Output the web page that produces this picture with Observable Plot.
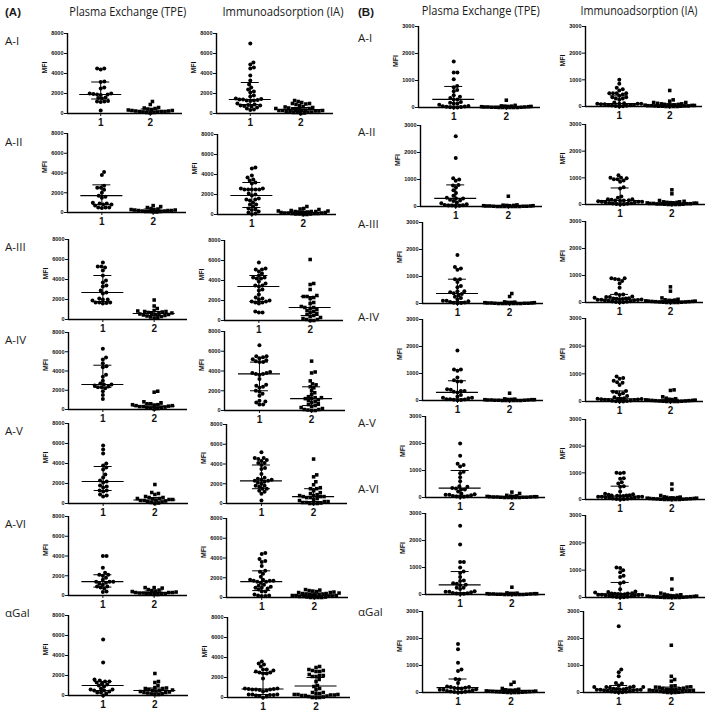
<!DOCTYPE html>
<html><head><meta charset="utf-8">
<script src="https://cdn.jsdelivr.net/npm/d3@7"></script>
<script src="https://cdn.jsdelivr.net/npm/@observablehq/plot@0.6"></script>
<style>
body{margin:0;background:#fff;}
#root{position:relative;width:709px;height:712px;overflow:hidden;background:#fff;}
.lbl{position:absolute;white-space:nowrap;color:#1a1a1a;line-height:1;}
.sub{position:absolute;}
</style></head><body><div id="root"></div>
<script>
// ---------- categories / labels ----------
const antigens = ["A-I","A-II","A-III","A-IV","A-V","A-VI","αGal"];
const methods = ["Plasma Exchange (TPE)","Immunoadsorption (IA)"];
const panels = ["(A)","(B)"];
const groups = [1, 2];
const yMaxA = 8000, yMaxB = 3000;
const ticksA = [0, 2000, 4000, 6000, 8000];
const ticksB = [0, 1000, 2000, 3000];
const yLabel = "MFI";

// ---------- Panel A values (MFI), one array per antigen ----------
const A_TPE_g1 = [
 [4500,4400,4500,3200,3150,2600,2500,2000,1950,1900,1900,1850,2000,1600,1550,1500,1200,1250,1150,1200,300],
 [4100,3800,2700,2500,2500,2300,2000,1700,1600,1500,1000,900,900,800,800,700,500,500,450,500],
 [5700,5300,5200,5300,4900,4400,3900,3700,3400,3300,2900,2700,2600,2100,2000,2000,1900,1700,1700,1600,1700,1650],
 [6300,5400,5200,4800,4500,4400,3600,3400,3000,2700,2600,2600,2500,2400,2300,2300,2200,1900,1500,1100],
 [5800,5400,5000,4000,3800,3600,3400,2900,2600,2300,2200,2100,1800,1700,1600,1300,1300,1200,900,800,700],
 [4000,4000,2800,2300,2100,2100,2000,1800,1600,1400,1400,1400,1300,1200,1100,900,900,800,700,400,350],
 [5600,3300,1600,1500,1400,1400,1300,1200,1100,1000,900,700,600,600,500,500,400,300,300,200,0]
];
const A_TPE_g2 = [
 [1200,900,600,550,500,450,400,350,300,300,250,250,200,200,200,150,150,100,100,50],
 [700,600,500,400,350,300,300,250,250,200,200,200,150,150,100,100,100,50,50],
 [1950,1350,1100,900,850,800,800,750,700,650,600,600,550,500,500,450,400,350,300,250,200,150],
 [1900,1800,800,700,600,600,500,500,450,400,400,350,300,300,250,200,200,150,100,50],
 [1900,1100,1000,900,700,600,600,500,500,450,400,400,350,300,300,250,200,150,100,50,0],
 [800,800,750,600,550,500,450,400,350,300,300,300,250,250,200,200,150,150,100,100],
 [2200,1400,1300,1000,800,750,700,700,600,550,500,500,450,400,350,300,300,250,200,150,100,100]
];
const A_IA_g1 = [
 [7000,5100,4900,4600,4500,3800,3300,2900,2600,2400,2200,2100,1800,1700,1500,1450,1400,1400,1350,1300,1300,1250,1000,900,850,800,800,750,700,600,500,400,350],
 [4700,4600,3900,3700,3500,3400,3200,3100,2600,2600,2500,2500,2500,2500,2500,2100,2000,1900,1600,1500,1500,1400,1200,1000,1000,800,600,500,450,300,200,100,50],
 [5800,5200,5100,5100,4900,4700,4500,4300,4300,4200,4200,3900,3700,3500,3500,3400,3100,3000,2600,2300,2200,2100,2000,1900,1900,1800,1800,1700,900,800,800],
 [6600,5500,5500,5400,5300,5200,5100,5000,4900,4900,3900,3800,3800,3700,3700,3600,3200,2600,2500,2400,2300,2000,1900,1700,1500,1000,900,800,600,600],
 [5200,4600,4600,4500,4400,4300,4100,4100,3900,3600,3500,3000,2600,2500,2400,2400,2300,2300,2200,2100,2000,1800,1800,1700,1500,1500,1300,1200,1000,300],
 [4500,4400,3900,3700,3600,3200,2700,2600,2400,2100,1800,1800,1700,1700,1700,1600,1600,1500,1300,1200,1100,1000,1000,900,800,600,600,300,200,200,150,150],
 [3600,3400,3300,3100,2800,2800,2700,2600,2500,2500,2400,2400,1900,900,900,850,850,800,800,800,750,700,600,300,300,300,250,250,200,150,100,0]
];
const A_IA_g2 = [
 [1300,1200,1100,1000,1000,950,900,800,700,650,600,550,500,500,450,400,400,350,350,300,300,300,250,250,200,200,150,150,100,100,50,0],
 [800,600,550,500,400,350,350,300,300,300,250,250,250,200,200,200,150,150,150,100,100,100,50,50,50,0,0],
 [6100,3700,3600,3100,2500,2400,2400,2300,2200,1800,1700,1400,1300,1300,1200,1100,1000,900,800,700,600,500,400,300,200,100,100,0,0],
 [5000,3900,3800,3000,2700,2600,2400,2300,2000,1800,1600,1400,1300,1300,1200,1200,1100,1000,900,800,700,600,500,400,300,200,100,100,50,0,0],
 [4500,2900,2700,2200,1900,1600,1500,1500,1300,1100,1000,900,800,800,700,700,700,600,600,500,400,300,200,200,100,100,50,0,0,0],
 [800,750,700,650,600,550,500,500,450,400,400,350,350,300,300,250,250,200,200,200,150,150,100,100,50,50,0,0,0,0],
 [3100,3000,2800,2700,2700,2600,2600,2300,2200,2200,2100,2100,1800,1600,1200,1100,900,800,500,500,400,400,300,300,300,250,250,200,200,150,100,50,0,0,0]
];
// [lower quartile, median, upper quartile]
const A_TPE_g1_bar = [[1450,1900,3150],[800,1700,2800],[1800,2700,4400],[2300,2600,4600],[1300,2200,3700],[850,1400,2100],[500,1000,1400]];
const A_TPE_g2_bar = [[150,250,450],[100,200,350],[400,600,800],[200,350,550],[150,350,600],[150,300,450],[250,500,750]];
const A_IA_g1_bar = [[900,1400,3100],[700,1900,3200],[1900,3400,4500],[2000,3700,4900],[1500,2300,3900],[700,1600,2700],[300,850,2500]];
const A_IA_g2_bar = [[200,400,600],[100,200,300],[500,1300,2400],[500,1200,2400],[200,700,1500],[100,250,450],[150,1150,2000]];

// ---------- Panel B values (MFI) ----------
const B_TPE_g1 = [
 [1700,1300,1300,1050,800,750,650,600,450,400,350,300,300,200,180,150,150,100,60,50,40,30,20,10,0,0],
 [2600,1800,1050,1000,950,800,780,700,600,500,400,320,300,300,250,220,200,150,120,80,60,50,40,40,30,20],
 [1800,1350,1300,1250,900,900,800,650,600,450,450,420,380,350,300,250,200,150,100,100,80,60,40,30,20,10],
 [1850,1150,1150,1100,850,750,700,700,420,400,350,350,320,300,200,150,100,100,80,50,50,40,30,20,10],
 [2000,1550,1250,1200,1150,950,900,750,600,420,400,350,330,300,300,220,150,120,100,100,80,60,50,40,30,20],
 [2550,1850,1200,1200,1000,850,800,650,520,500,420,400,360,340,250,250,200,120,100,100,80,60,50,40,30,20],
 [1800,1600,1100,850,800,500,480,350,220,200,200,180,170,150,150,120,100,100,80,60,50,40,30,20,10,0]
];
const B_TPE_g2 = [
 [270,80,60,50,50,40,40,30,30,20,20,20,10,10,10,0,0,0,0,0,0],
 [380,60,50,40,40,30,30,30,20,20,20,10,10,10,0,0,0,0,0,0,0],
 [370,260,60,50,40,40,30,30,20,20,20,10,10,10,0,0,0,0,0,0,0],
 [270,60,50,40,40,30,30,30,20,20,20,10,10,10,0,0,0,0,0,0],
 [200,150,80,60,50,40,40,30,30,30,20,20,20,10,10,10,0,0,0,0,0],
 [270,60,50,40,40,30,30,30,20,20,20,10,10,10,0,0,0,0,0,0],
 [380,300,150,120,100,90,80,70,60,50,50,40,40,30,30,20,20,10,10,0,0,0,0]
];
const B_IA_g1 = [
 [1000,850,700,650,600,500,500,500,500,450,400,350,350,300,300,250,150,120,100,100,100,100,80,80,60,50,50,40,30,20,10,0],
 [1100,1000,1000,980,950,950,900,850,650,600,300,250,200,200,180,160,150,150,140,120,100,100,100,80,80,60,50,40,30,20,10,0],
 [900,900,870,850,800,700,550,320,300,280,220,200,200,180,160,150,150,140,130,120,110,100,100,90,80,70,60,50,40,30,20,10,0],
 [900,850,820,750,700,680,600,380,350,330,300,250,200,150,120,100,100,100,90,80,70,60,50,50,40,30,20,10,0,0],
 [1000,1000,980,800,780,650,600,500,480,300,220,200,180,160,150,150,140,130,120,100,100,100,90,80,70,60,50,40,30,20,10,0],
 [1100,1080,1000,920,800,750,560,520,300,220,200,180,160,150,150,140,130,120,110,100,100,100,90,80,70,60,50,40,30,20,10,0],
 [2450,850,750,600,350,330,260,220,200,200,200,190,180,150,140,130,120,110,100,100,100,90,80,70,60,50,40,30,20,10,0]
];
const B_IA_g2 = [
 [600,250,200,150,150,120,100,100,80,80,60,60,50,50,40,40,30,30,20,20,20,10,10,10,0,0,0,0],
 [550,400,150,120,100,100,80,80,70,60,60,50,50,40,40,30,30,20,20,10,10,0,0,0,0],
 [580,420,170,120,100,90,80,70,60,50,50,40,40,30,30,20,20,10,10,0,0,0,0],
 [420,400,170,120,100,80,70,60,50,50,40,40,30,30,20,20,10,10,0,0,0,0],
 [580,380,150,100,90,80,70,60,60,50,50,40,40,30,30,20,20,10,10,0,0,0,0,0],
 [680,300,160,120,100,90,80,70,60,50,50,40,40,30,30,20,20,10,10,0,0,0,0,0],
 [1750,600,480,420,250,240,210,200,200,190,160,150,140,120,110,100,100,90,80,70,60,50,50,40,30,20,10,0,0,0]
];
const B_TPE_g1_bar = [[50,300,780],[80,300,800],[70,370,900],[60,300,730],[80,350,1000],[70,360,850],[40,180,500]];
const B_TPE_g2_bar = [[0,20,50],[0,20,40],[0,20,40],[0,20,40],[0,20,40],[0,20,40],[20,80,120]];
const B_IA_g1_bar = [[40,110,400],[60,150,620],[50,120,300],[40,100,380],[50,130,500],[50,130,550],[40,120,260]];
const B_IA_g2_bar = [[10,50,100],[20,50,100],[10,40,80],[10,40,80],[10,40,80],[10,40,80],[30,100,200]];

// ---------- layout (pixel frames: axis x, axis end x, top y, zero y) ----------
const frameA_TPE = [[67,182,33,113],[67,186,133,212],[68,187,239,319],[68,187,332,409],[68,188,423,503],[68,187,516,595],[68,188,615,695]];
const frameA_IA  = [[216,333,33,113],[217,336,134,214],[224,343,240,320],[224,345,331,410],[226,347,424,503],[226,348,518,597],[227,350,617,697]];
const frameB_TPE = [[418,540,26,107],[420,542,125,206],[422,543,222,303],[422,543,319,400],[425,545,416,497],[425,545,513,594],[422,545,611,692]];
const frameB_IA  = [[585,702,26,106],[585,705,124,204],[585,703,221,302],[585,703,318,401],[585,705,419,499],[585,705,515,597],[583,705,611,692]];
const rowLabelYA = [41,142,247,340,431,524,613];
const rowLabelYB = [38,132,224,317,423,489,612];

const root = document.getElementById("root");
const SANS = "'Open Sans', 'Noto Sans', sans-serif";
const AX = "'Liberation Sans', Arial, sans-serif";

function label(text, x, y, size, opts = {}) {
  const el = document.createElement("div");
  el.className = "lbl";
  el.textContent = text;
  el.style.fontFamily = opts.font || SANS;
  el.style.fontSize = size + "px";
  if (opts.bold) el.style.fontWeight = "bold";
  root.appendChild(el);
  const w = el.getBoundingClientRect().width, h = el.getBoundingClientRect().height;
  let sx = 1;
  if (opts.width) sx = opts.width / w;
  const left = opts.center ? x - w / 2 : x;
  el.style.left = left + "px";
  el.style.top = (y - h / 2) + "px";
  if (sx !== 1) { el.style.transformOrigin = "50% 50%"; el.style.transform = `scaleX(${sx})`; }
}

// beeswarm layout of one column, in pixels
function swarm(vals, pxY, d, maxHalf) {
  const order = vals.map((v, i) => i).sort((a, b) => vals[a] - vals[b]);
  const placed = [], off = new Array(vals.length);
  for (const i of order) {
    const y = vals[i] * pxY;
    let chosen = null;
    for (const s of [1, 0.85, 0.7, 0.55, 0.4]) {
      const dd = d * s;
      const cands = [0];
      for (const p of placed) {
        const dy = Math.abs(p.y - y);
        if (dy < dd) { const dx = Math.sqrt(dd * dd - dy * dy); cands.push(p.x + dx, p.x - dx); }
      }
      cands.sort((a, b) => Math.abs(a) - Math.abs(b) || b - a);
      for (const c of cands) {
        if (Math.abs(c) > maxHalf) break;
        if (placed.every(p => (p.x - c) ** 2 + (p.y - y) ** 2 >= dd * dd - 1e-6)) { chosen = c; break; }
      }
      if (chosen !== null) break;
    }
    if (chosen === null) chosen = 0;
    placed.push({x: chosen, y});
    off[i] = chosen;
  }
  return off;
}

function subplot(v1, v2, b1, b2, frame, ymax, ticks) {
  const [ax, axEnd, top, zero] = frame;
  const W = axEnd - ax, H = zero - top;
  const mL = 34, mR = 4, mT = 6, mB = 22;
  const xDom = [0.33, 2.65];
  const pxX = W / (xDom[1] - xDom[0]);
  const pxY = H / ymax;
  const pts = [];
  [v1, v2].forEach((vals, gi) => {
    const off = swarm(vals, pxY, 3.7, 25);
    vals.forEach((v, i) => pts.push({g: groups[gi], v, x: groups[gi] + off[i] / pxX}));
  });
  const bars = [b1, b2].map((b, gi) => ({g: groups[gi], q1: b[0], med: b[1], q3: b[2]}));
  const medHW = 21 / pxX, capHW = 9 / pxX;
  const svg = Plot.plot({
    width: W + mL + mR, height: H + mT + mB,
    marginLeft: mL, marginRight: mR, marginTop: mT, marginBottom: mB,
    x: {domain: xDom},
    y: {domain: [0, ymax]},
    style: {background: "transparent", fontFamily: AX, overflow: "visible", color: "#111"},
    marks: [
      Plot.axisY({ticks, tickSize: 3, tickPadding: 1, fontSize: 5.5, fontWeight: "bold", tickFormat: d => String(d), label: null}),
      Plot.axisX({ticks: groups, tickSize: 3, tickPadding: 2, fontSize: 10, fontWeight: "bold", tickFormat: d => String(d), label: null}),
      Plot.text([yLabel], {text: d => d, frameAnchor: "left", dx: -23, rotate: -90, fontSize: 7, fontWeight: "bold"}),
      Plot.dot(pts.filter(d => d.g === 1), {x: "x", y: "v", r: 2, fill: "#000", stroke: "none", symbol: "circle"}),
      Plot.dot(pts.filter(d => d.g === 2), {x: "x", y: "v", r: 2, fill: "#000", stroke: "none", symbol: "square"}),
      Plot.ruleX(bars, {x: "g", y1: "q1", y2: "q3", stroke: "#000", strokeWidth: 1}),
      Plot.ruleY(bars, {y: "med", x1: d => d.g - medHW, x2: d => d.g + medHW, stroke: "#000", strokeWidth: 1.2}),
      Plot.ruleY(bars, {y: "q1", x1: d => d.g - capHW, x2: d => d.g + capHW, stroke: "#000", strokeWidth: 1}),
      Plot.ruleY(bars, {y: "q3", x1: d => d.g - capHW, x2: d => d.g + capHW, stroke: "#000", strokeWidth: 1}),
      Plot.ruleY([0], {stroke: "#000", strokeWidth: 1.4}),
      Plot.ruleX([xDom[0]], {stroke: "#000", strokeWidth: 1.4})
    ]
  });
  const div = document.createElement("div");
  div.className = "sub";
  div.style.left = (ax - mL) + "px";
  div.style.top = (top - mT) + "px";
  div.appendChild(svg);
  root.appendChild(div);
}

// panels
antigens.forEach((ag, i) => {
  subplot(A_TPE_g1[i], A_TPE_g2[i], A_TPE_g1_bar[i], A_TPE_g2_bar[i], frameA_TPE[i], yMaxA, ticksA);
  subplot(A_IA_g1[i], A_IA_g2[i], A_IA_g1_bar[i], A_IA_g2_bar[i], frameA_IA[i], yMaxA, ticksA);
  subplot(B_TPE_g1[i], B_TPE_g2[i], B_TPE_g1_bar[i], B_TPE_g2_bar[i], frameB_TPE[i], yMaxB, ticksB);
  subplot(B_IA_g1[i], B_IA_g2[i], B_IA_g1_bar[i], B_IA_g2_bar[i], frameB_IA[i], yMaxB, ticksB);
  label(ag, 5, rowLabelYA[i], 11.5);
  label(ag, 358, rowLabelYB[i], 11.5);
});

// headers
label(panels[0], 5, 13, 11.5, {bold: true, font: AX});
label(panels[1], 358, 13, 11.5, {bold: true, font: AX});
label(methods[0], 128, 12, 13.5, {center: true, width: 117});
label(methods[1], 283, 12, 13.5, {center: true, width: 121});
label(methods[0], 481, 11, 13.5, {center: true, width: 118});
label(methods[1], 639, 11, 13.5, {center: true, width: 117});
</script>
</body></html>
